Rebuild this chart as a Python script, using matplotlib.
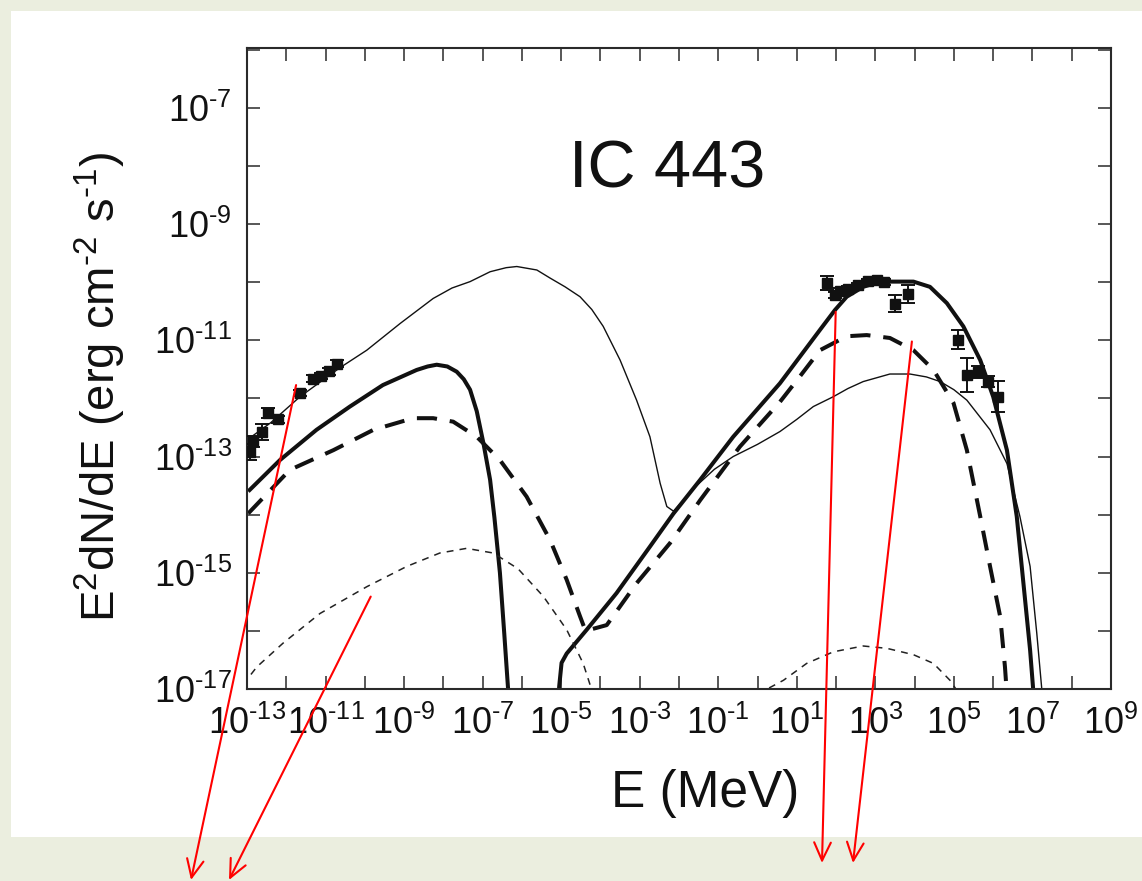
import numpy as np
import matplotlib
matplotlib.use("Agg")
import matplotlib.pyplot as plt
from matplotlib.patches import Rectangle
from matplotlib.ticker import FixedLocator, FuncFormatter, NullLocator

plt.rcParams['font.family'] = ['Liberation Sans', 'DejaVu Sans']
plt.rcParams['mathtext.fontset'] = 'custom'
plt.rcParams['mathtext.rm'] = 'Liberation Sans'
plt.rcParams['mathtext.it'] = 'Liberation Sans:italic'
plt.rcParams['mathtext.bf'] = 'Liberation Sans:bold'

# ---------------- observed fluxes: log10 E [MeV], log10 E^2 dN/dE [erg cm^-2 s^-1], error [dex]
radio_logE = [-12.92, -12.85, -12.62, -12.46, -12.22, -11.65, -11.32, -11.12, -10.92, -10.72]
radio_logF = [-12.92, -12.74, -12.58, -12.25, -12.36, -11.91, -11.66, -11.61, -11.53, -11.40]
radio_err = [0.14, 0.10, 0.14, 0.08, 0.06, 0.05, 0.06, 0.05, 0.06, 0.06]

fermi_logE = [1.76, 1.97, 2.10, 2.31, 2.57, 2.82, 3.04, 3.21, 3.50, 3.84]
fermi_logF = [-10.02, -10.22, -10.15, -10.11, -10.05, -9.98, -9.97, -9.99, -10.37, -10.20]
fermi_err = [0.12, 0.05, 0.05, 0.04, 0.04, 0.04, 0.04, 0.05, 0.15, 0.15]

tev_logE = [5.11, 5.33, 5.62, 5.88, 6.13]
tev_logF = [-10.99, -11.60, -11.54, -11.71, -11.97]
tev_err = [0.16, 0.29, 0.10, 0.10, 0.27]

# ---------------- model curves (log10 E, log10 flux)
# thin solid: full broadband model
thin_logE = [-12.97, -12.40, -11.65, -10.63, -9.95, -9.10, -8.26, -7.78, -7.32,
             -6.81, -6.40, -6.13, -5.62, -5.28, -4.90, -4.52, -4.22, -3.93, -3.50,
             -3.08, -2.74, -2.48, -2.31, -2.14, -1.55, -1.10, -0.62, 0.00, 0.57,
             1.00, 1.42, 1.93, 2.30, 2.69, 3.37, 3.88, 4.30, 4.65, 5.00,
             5.33, 5.92, 6.35, 6.68, 6.94, 7.11, 7.24, 7.27]
thin_logF = [-12.70, -12.42, -11.97, -11.47, -11.17, -10.71, -10.28, -10.10, -9.99,
             -9.82, -9.75, -9.73, -9.79, -9.93, -10.08, -10.25, -10.47, -10.76, -11.34,
             -12.03, -12.66, -13.46, -13.86, -13.94, -13.50, -13.22, -13.00, -12.79, -12.57,
             -12.36, -12.14, -11.97, -11.83, -11.71, -11.58, -11.58, -11.63, -11.71, -11.85,
             -12.03, -12.54, -13.12, -14.03, -14.89, -16.04, -17.02, -17.30]

# thick solid: low-energy component
thickA_logE = [-12.97, -12.16, -11.23, -10.38, -9.54, -8.68, -8.40, -8.17, -7.90, -7.66,
               -7.48, -7.32, -7.15, -6.98, -6.81, -6.70, -6.56, -6.45, -6.35, -6.32]
thickA_logF = [-13.60, -13.06, -12.54, -12.14, -11.77, -11.51, -11.45, -11.42, -11.45, -11.54,
               -11.67, -11.85, -12.22, -12.77, -13.40, -14.05, -15.00, -16.04, -17.02, -17.30]
# thick solid: high-energy component
thickB_logE = [-5.08, -5.05, -4.99, -4.86, -4.35, -3.59, -2.74, -2.14, -1.46, -0.62,
               0.57, 1.08, 1.59, 1.97, 2.27, 2.69, 3.12, 3.97, 4.39, 4.82,
               5.24, 5.67, 6.00, 6.35, 6.60, 6.77, 6.94, 7.02, 7.04]
thickB_logF = [-17.30, -16.95, -16.55, -16.39, -15.98, -15.35, -14.55, -13.98, -13.40, -12.66,
               -11.74, -11.28, -10.82, -10.48, -10.25, -10.08, -9.99, -9.99, -10.08, -10.36,
               -10.76, -11.34, -11.97, -12.89, -14.03, -15.18, -16.33, -17.02, -17.30]

# thick dashed: second model
dashA_logE = [-12.97, -11.91, -10.80, -9.78, -8.77, -8.26, -7.75, -7.15, -6.56, -5.88,
              -5.28, -4.86, -4.52, -4.38, -3.84, -3.08, -2.23, -1.46, -0.45, 0.57,
              1.08, 1.59, 2.27, 2.78, 3.37, 3.97, 4.48, 4.99, 5.33, 5.67,
              5.92, 6.18, 6.30, 6.36]
dashA_logF = [-13.98, -13.23, -12.89, -12.54, -12.34, -12.34, -12.40, -12.66, -13.06, -13.69,
              -14.44, -15.12, -15.75, -16.00, -15.90, -15.18, -14.49, -13.75, -12.83, -12.06,
              -11.62, -11.17, -10.93, -10.91, -10.96, -11.17, -11.51, -12.08, -12.89, -14.03,
              -14.89, -15.76, -16.62, -17.20]

# thin dashed: third model
dashB_lo_logE = [-12.90, -12.75, -12.08, -11.14, -9.95, -8.93, -8.09, -7.41, -6.73, -6.10,
                 -5.45, -4.86, -4.44, -4.22, -4.18]
dashB_lo_logF = [-16.75, -16.62, -16.21, -15.70, -15.24, -14.89, -14.66, -14.58, -14.66, -14.93,
                 -15.41, -15.98, -16.56, -17.02, -17.20]
dashB_hi_logE = [0.10, 0.19, 0.66, 1.25, 1.93, 2.69, 3.29, 3.97, 4.48, 4.90, 5.07, 5.12]
dashB_hi_logF = [-17.15, -17.02, -16.85, -16.56, -16.36, -16.26, -16.30, -16.41, -16.56, -16.85,
                 -17.02, -17.15]

x_ticks = list(range(-13, 10))
y_ticks = list(range(-17, -5))


def lin(v):
    return np.power(10.0, np.asarray(v, dtype=float))


def log_err(logf, err):
    f = lin(logf)
    e = np.asarray(err, dtype=float)
    return np.vstack([f - lin(np.asarray(logf) - e), lin(np.asarray(logf) + e) - f])


W, H = 1142, 881
fig = plt.figure(figsize=(W / 100, H / 100), dpi=100, facecolor='#ebeedf')
fig.patches.append(Rectangle((11 / W, 1 - 837 / H), 1 - 11 / W, (837 - 11) / H,
                             transform=fig.transFigure, facecolor='white',
                             edgecolor='none', zorder=-10))

ax = fig.add_axes([247 / W, 1 - 689 / H, (1111 - 247) / W, (689 - 48) / H])
ax.set_zorder(1)
ax.set_xscale('log')
ax.set_yscale('log')
ax.set_xlim(1e-13, 1e9)
ax.set_ylim(1e-17, 10 ** -5.97)
ax.set_facecolor('white')

ink = '#111111'
ax.plot(lin(thin_logE), lin(thin_logF), color=ink, lw=1.0)
ax.plot(lin(thickA_logE), lin(thickA_logF), color=ink, lw=2.9, solid_capstyle='butt')
ax.plot(lin(thickB_logE), lin(thickB_logF), color=ink, lw=2.9, solid_capstyle='butt')
ax.plot(lin(dashA_logE), lin(dashA_logF), color=ink, lw=2.9, dashes=(5.0, 3.2))
ax.plot(lin(dashB_lo_logE), lin(dashB_lo_logF), color='#222222', lw=1.1, dashes=(4.5, 4.0))
ax.plot(lin(dashB_hi_logE), lin(dashB_hi_logF), color='#222222', lw=1.1, dashes=(4.5, 4.0))

for le, lf, er in ((radio_logE, radio_logF, radio_err),
                   (fermi_logE, fermi_logF, fermi_err),
                   (tev_logE, tev_logF, tev_err)):
    ax.errorbar(lin(le), lin(lf), yerr=log_err(lf, er), fmt='s', ms=7, color=ink,
                ecolor=ink, elinewidth=1.4, capsize=5, capthick=1.4, zorder=5)

# axes frame and ticks
for sp in ax.spines.values():
    sp.set_linewidth(1.5)
    sp.set_color('#2a2a2a')

ax.xaxis.set_major_locator(FixedLocator([10.0 ** k for k in x_ticks]))
ax.yaxis.set_major_locator(FixedLocator([10.0 ** k for k in y_ticks]))
ax.xaxis.set_minor_locator(NullLocator())
ax.yaxis.set_minor_locator(NullLocator())


def odd_decade(v, pos):
    k = int(round(np.log10(v)))
    if not k % 2:
        return ''
    exp = ('\u2010%d' % -k) if k < 0 else '%d' % k
    return r'$10^{%s}$' % exp


ax.xaxis.set_major_formatter(FuncFormatter(odd_decade))
ax.yaxis.set_major_formatter(FuncFormatter(odd_decade))
ax.tick_params(which='major', direction='in', length=9.5, width=1.1, color='#2a2a2a',
               top=True, right=True, labelsize=26, labelcolor='#111111')
ax.tick_params(axis='x', pad=12)
ax.tick_params(axis='y', pad=11)

ax.set_xlabel('E (MeV)', fontsize=37, color='#111111')
ax.xaxis.set_label_coords(0.53, -0.125)
ax.set_ylabel('E$^2$dN/dE (erg cm$^{\u20102}$ s$^{\u20101}$)', fontsize=34, color='#111111')
ax.yaxis.set_label_coords(-0.138, 0.471)

ax.text(0.486, 0.7816, 'IC 443', transform=ax.transAxes, ha='center', va='baseline',
        fontsize=48, color='#111111')

# red pointers running from the curves down past the panel
pointers = [((-11.75, -11.77), (191, 880)),
            ((-9.85, -15.41), (229, 880)),
            ((1.99, -10.51), (822, 863)),
            ((3.93, -11.02), (853, 863))]
for (le, lf), (px, py) in pointers:
    ax.annotate('', xy=(px / W, 1 - py / H), xycoords='figure fraction',
                xytext=(10 ** le, 10 ** lf), textcoords='data',
                arrowprops=dict(arrowstyle='->,head_length=0.65,head_width=0.3',
                                color='#ff0000', lw=1.5, shrinkA=0, shrinkB=0,
                                mutation_scale=20),
                zorder=10, annotation_clip=False)

fig.savefig('out.png', dpi=100, facecolor=fig.get_facecolor())
